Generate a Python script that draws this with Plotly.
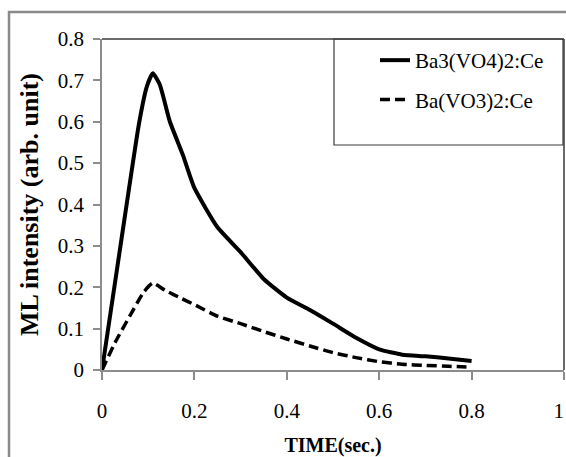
import plotly.graph_objects as go

# Data
x_ba3 = [0, 0.04, 0.08, 0.097, 0.11, 0.125, 0.147, 0.175, 0.2, 0.25, 0.3, 0.35, 0.4, 0.45, 0.5, 0.55, 0.6, 0.65, 0.7, 0.75, 0.8]
y_ba3 = [0, 0.30, 0.595, 0.685, 0.717, 0.69, 0.60, 0.52, 0.44, 0.345, 0.285, 0.22, 0.175, 0.145, 0.112, 0.078, 0.05, 0.037, 0.033, 0.028, 0.022]
x_ba1 = [0, 0.03, 0.06, 0.09, 0.11, 0.136, 0.172, 0.2, 0.25, 0.3, 0.35, 0.4, 0.45, 0.5, 0.55, 0.6, 0.65, 0.7, 0.75, 0.8]
y_ba1 = [0, 0.07, 0.13, 0.188, 0.21, 0.193, 0.173, 0.158, 0.13, 0.112, 0.093, 0.075, 0.058, 0.042, 0.03, 0.02, 0.014, 0.011, 0.009, 0.007]
name_ba3 = "Ba3(VO4)2:Ce"
name_ba1 = "Ba(VO3)2:Ce"
x_ticks = [0, 0.2, 0.4, 0.6, 0.8, 1]
x_ticklabels = ["0", "0.2", "0.4", "0.6", "0.8", "1\u00a0\u00a0"]
y_ticks = [0, 0.1, 0.2, 0.3, 0.4, 0.5, 0.6, 0.7, 0.8]
y_ticklabels = ["0", "0.1", "0.2", "0.3", "0.4", "0.5", "0.6", "0.7", "0.8"]

FONT = "Liberation Serif, Times New Roman, serif"
W, H = 566, 457
L, R, T, B = 102, 2, 39, 87
pw, ph = W - L - R, H - T - B

def px(xp):
    # reference pixel x -> paper coordinate
    return (xp - L) / pw

def py(yp):
    # reference pixel y -> paper coordinate
    return (H - B - yp) / ph

fig = go.Figure()
fig.add_trace(go.Scatter(x=x_ba3, y=y_ba3, mode="lines", name=name_ba3,
                         legendgroup="a",
                         line=dict(color="black", width=4, shape="spline", smoothing=0.5)))
fig.add_trace(go.Scatter(x=x_ba1, y=y_ba1, mode="lines", name=name_ba1,
                         legendgroup="b",
                         line=dict(color="black", width=3.5, dash="10px,5px", shape="spline", smoothing=0.5)))

axis_color = "#8c8c8c"
fig.update_layout(
    width=W, height=H, autosize=False,
    margin=dict(l=L, r=R, t=T, b=B, autoexpand=False),
    paper_bgcolor="white", plot_bgcolor="white",
    font=dict(family=FONT, color="black", size=21),
    showlegend=True,
    legend=dict(x=px(375), y=py(40), xanchor="left", yanchor="top",
                font=dict(family=FONT, size=21, color="black"),
                bgcolor="rgba(0,0,0,0)", borderwidth=0,
                traceorder="grouped", tracegroupgap=9),
    xaxis=dict(range=[0, 1], tickvals=x_ticks, ticktext=x_ticklabels, automargin=False,
               showgrid=False, zeroline=False, showline=True, linecolor=axis_color, linewidth=1.5,
               ticks="outside", ticklen=8, tickcolor=axis_color, tickwidth=1.5,
               ticklabelstandoff=13, ticklabeloverflow="allow",
               tickfont=dict(family=FONT, size=21),
               title=dict(text="<b>TIME(sec.)</b>", font=dict(family=FONT, size=20), standoff=18)),
    yaxis=dict(range=[0, 0.8], tickvals=y_ticks, ticktext=y_ticklabels, automargin=False,
               showgrid=False, zeroline=False, showline=True, linecolor=axis_color, linewidth=1.5,
               ticks="outside", ticklen=7, tickcolor=axis_color, tickwidth=1.5,
               ticklabelstandoff=5,
               tickfont=dict(family=FONT, size=21),
               title=dict(text="<b>ML intensity (arb. unit)</b>", font=dict(family=FONT, size=26), standoff=12)),
)

shapes = [
    # plot area top and right border
    dict(type="line", xref="paper", yref="paper", x0=0, x1=1, y0=1, y1=1,
         line=dict(color="#3a3a3a", width=1.5)),
    dict(type="line", xref="paper", yref="paper", x0=1, x1=1, y0=0, y1=1,
         line=dict(color="#3a3a3a", width=1.5)),
    # legend box
    dict(type="rect", xref="paper", yref="paper", x0=px(334), x1=px(563), y0=py(145), y1=py(39),
         line=dict(color="#3a3a3a", width=1.2)),
    # outer chart border
    dict(type="rect", xref="paper", yref="paper", x0=px(9), x1=px(580), y0=py(470), y1=py(12),
         line=dict(color="#8a8a8a", width=2.5)),
]
fig.update_layout(shapes=shapes)

fig.write_html("out.html",
               config={"responsive": False, "displayModeBar": False},
               post_script="document.body.style.margin='0';document.body.style.overflow='hidden';")
